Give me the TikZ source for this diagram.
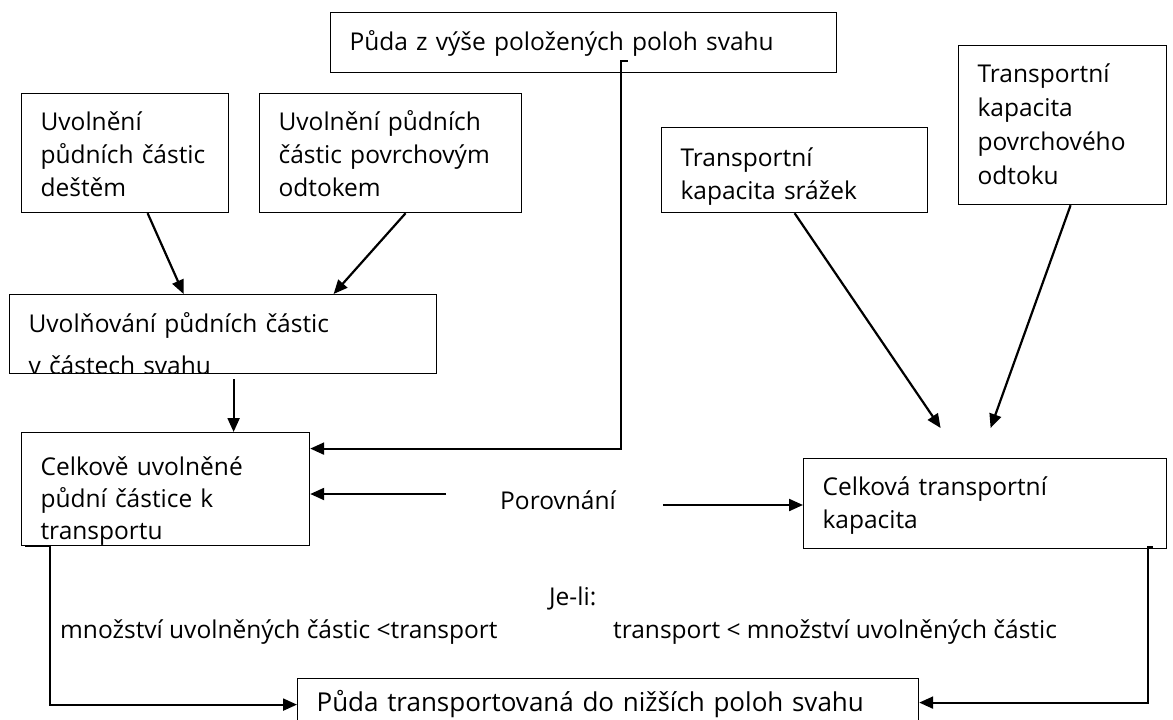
\documentclass[tikz,border=0pt]{standalone}
\usepackage{fontspec}
\setmainfont{Open Sans}
\usetikzlibrary{arrows.meta, positioning}

\begin{document}
\begin{tikzpicture}[
    x=1pt, y=-1pt,
    every node/.style={font=\fontsize{24.5}{33}\selectfont},
    box/.style={
        rectangle,
        draw=black,
        line width=1.2pt,
        anchor=north west,
        align=left,
        inner xsep=19pt,
        inner ysep=0pt,
        execute at begin node={\hyphenpenalty=10000\exhyphenpenalty=10000}
    },
    note/.style={inner sep=0pt, anchor=base west},
    arrow/.style={-{Triangle[length=14pt, width=12pt]}, line width=2.2pt}
]
\clip (0,0) rectangle (1173,720);

% NODES
\node[box, text width=468pt, text height=38pt, text depth=22pt] (pudaz) at (330,12) {Půda z výše položených poloh svahu};

\node[box, text width=169pt, text height=37pt, text depth=82pt] (uvoldest) at (21,93) {Uvolnění\\půdních částic\\deštěm};
\node[box, text width=224pt, text height=37pt, text depth=82pt] (uvolodtok) at (259,93) {Uvolnění půdních\\částic povrchovým\\odtokem};

\begin{scope}
    \clip (0,0) rectangle (1173,373.6);
    \node[box, text width=389pt, text height=38pt, text depth=41pt,
          font=\fontsize{24.5}{42}\selectfont] (uvolnovani) at (9,294) {Uvolňování půdních částic\\v částech svahu};
\end{scope}

\begin{scope}
    \clip (0,0) rectangle (1173,545.6);
    \node[box, text width=250pt, text height=43pt, text depth=70pt,
          font=\fontsize{24.5}{32}\selectfont] (celkove) at (21,432) {Celkově uvolněné\\půdní částice k\\transportu};
\end{scope}

\node[box, text width=228pt, text height=39pt, text depth=46pt] (srazky) at (661,127) {Transportní\\kapacita srážek};
\node[box, text width=170pt, text height=37pt, text depth=122pt, font=\fontsize{24.5}{34}\selectfont] (povrch) at (958,45) {Transportní\\kapacita\\povrchového\\odtoku};

\node[box, text width=325pt, text height=37pt, text depth=53pt] (celkova) at (803,458) {Celková transportní\\kapacita};

\node[box, text width=583pt, text height=33pt, text depth=40pt, font=\fontsize{26}{33}\selectfont] (pudatrans) at (297,678) {Půda transportovaná do nižších poloh svahu};

% TEXTS
\node[inner sep=0pt, anchor=west] (porov) at (500,500) {Porovnání};
\node[note] (jeli) at (549,605) {Je-li:};
\node[note] (mensi) at (60,638) {množství uvolněných částic <transport};
\node[note] (vetsi) at (613,638) {transport < množství uvolněných částic};

% ARROWS
\draw[arrow] ([xshift=22.5pt]uvoldest.south) -- ([xshift=-39.5pt]uvolnovani.north);
\draw[arrow] ([xshift=15pt]uvolodtok.south) -- ([xshift=110.5pt]uvolnovani.north);
\draw[arrow] ([xshift=10.5pt,yshift=-5pt]uvolnovani.south) -- ([xshift=10.5pt]uvolnovani.south |- celkove.north);

\draw[arrow] ([xshift=44pt,yshift=12pt]pudaz.south) -- ++(-7,0) |- ([yshift=40.5pt]celkove.east);

\draw[arrow] ([xshift=-54pt,yshift=6pt]porov.west) -- ([yshift=6pt]porov.west -| celkove.east);
\draw[arrow] ([xshift=47pt,yshift=-5pt]porov.east) -- ([yshift=-5pt]porov.east -| celkova.west);

\draw[arrow] (srazky.south) -- ([xshift=-44.5pt,yshift=30pt]celkova.north);
\draw[arrow] ([xshift=8pt]povrch.south) -- ([xshift=5.5pt,yshift=30pt]celkova.north);

\draw[arrow] ([xshift=4pt]celkove.south west) -- ++(25,0) |- ([yshift=10.5pt]pudatrans.west);
\draw[arrow] ([xshift=-14pt,yshift=2pt]celkova.south east) -- ++(-5,0) |- ([yshift=12.5pt]pudatrans.east);

\end{tikzpicture}
\end{document}
